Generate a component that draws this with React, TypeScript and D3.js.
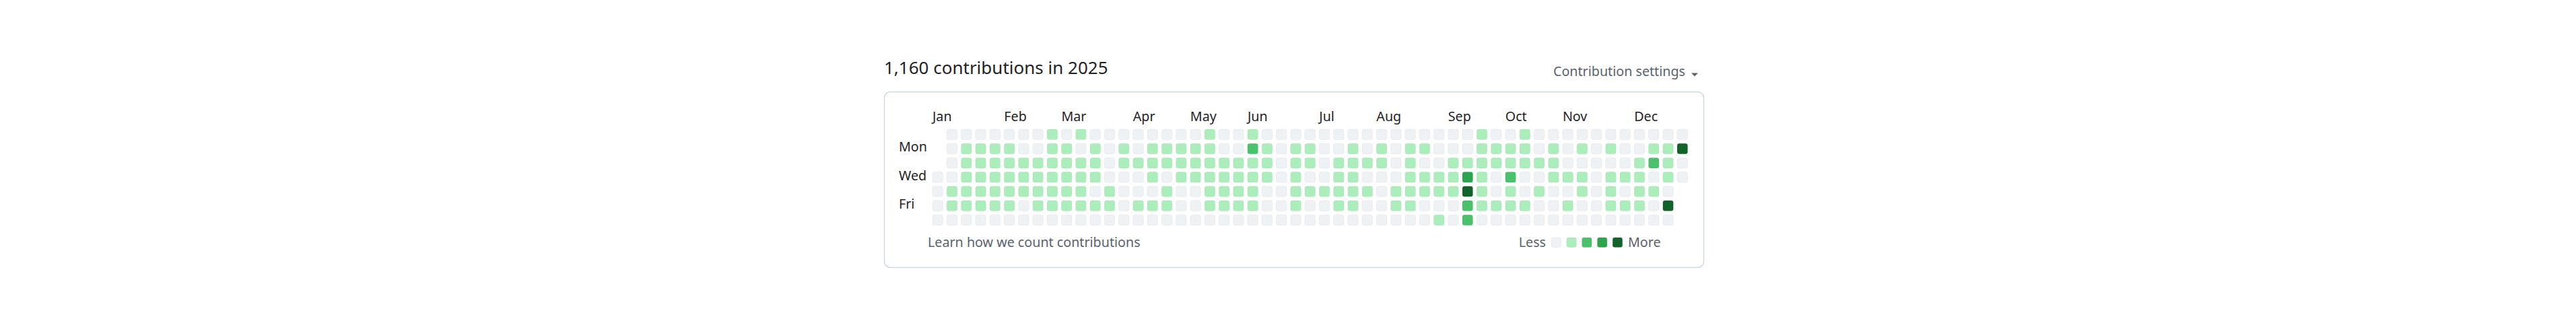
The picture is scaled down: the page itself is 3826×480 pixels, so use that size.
import React from 'react';
import * as d3 from 'd3';

// contribution levels, one array per weekday row (Sun..Sat), one entry per week column
const sun = [null,0,0,0,0,0,0,0,1,0, 1,0,0,0,0,0,0,0,0,1, 0,0,1,0,0,0,0,0,0,0, 0,0,0,0,0,0,0,0,1,0, 0,1,0,0,0,0,0,0,0,0, 0,0,0];
const mon = [null,0,1,1,1,1,0,0,1,1, 0,1,0,1,0,1,1,1,1,1, 0,0,2,1,0,1,1,0,0,1, 0,1,0,1,1,0,0,0,1,1, 1,1,0,1,0,1,0,1,0,0, 1,1,4];
const tue = [null,0,1,1,1,1,1,1,1,1, 1,1,0,1,1,1,1,1,1,1, 1,1,1,1,0,1,1,0,1,1, 1,1,0,1,0,0,1,1,1,1, 1,1,1,1,0,0,0,0,0,1, 2,1,0];
const wed = [0,0,1,1,1,1,1,1,1,1, 1,1,0,0,0,1,0,1,1,1, 1,1,1,1,0,1,0,0,1,1, 0,0,0,1,1,1,1,3,1,0, 2,0,0,1,1,1,0,1,1,1, 0,1,0];
const thu = [0,1,1,1,1,1,1,1,1,1, 1,0,1,0,0,0,1,0,0,1, 1,1,1,0,0,1,1,1,1,1, 1,0,1,1,1,1,1,4,1,0, 1,0,1,0,0,1,0,1,0,1, 1,0,null];
const fri = [0,1,1,1,1,1,0,1,1,1, 1,1,1,0,1,1,1,0,0,1, 1,1,1,0,0,1,0,0,1,1, 0,0,1,1,0,0,0,2,1,1, 1,1,0,0,1,0,0,1,1,1, 0,4,null];
const sat = [0,0,0,0,0,0,0,0,0,0, 0,0,0,0,0,0,0,0,0,0, 0,0,0,0,0,0,0,0,0,0, 0,0,0,0,0,1,0,2,0,0, 0,0,0,0,0,0,0,0,0,0, 0,0,null];

const rows = [sun, mon, tue, wed, thu, fri, sat];
const monthNames = ['Jan', 'Feb', 'Mar', 'Apr', 'May', 'Jun', 'Jul', 'Aug', 'Sep', 'Oct', 'Nov', 'Dec'];
const dayNames = ['', 'Mon', '', 'Wed', '', 'Fri', ''];
const levels = [0, 1, 2, 3, 4];
const levelColors = ['#eff2f5', '#aceebb', '#4ac26b', '#2da44e', '#116329'];
const year = 2025;
const title = '1,160 contributions in 2025';

const FONT = '"Noto Sans", sans-serif';

export default function App() {
    const start = new Date(year, 0, 1);
    const days = d3.timeDay.range(start, new Date(year + 1, 0, 1));
    const weekOf = (d: Date) => d3.timeWeek.count(start, d);
    const nWeeks = weekOf(days[days.length - 1]) + 1;

    const cell = 15.5;
    const step = 21.27;
    const x = d3.scaleLinear().domain([0, nWeeks - 1]).range([1385, 1385 + (nWeeks - 1) * step]);
    const y = d3.scaleLinear().domain([0, 6]).range([192, 192 + 6 * 21.2]);
    const color = d3.scaleOrdinal<number, string>().domain(levels).range(levelColors);

    const cells = days
        .map(d => ({ d, w: weekOf(d), r: d.getDay() }))
        .map(c => ({ ...c, level: rows[c.r][c.w] }))
        .filter(c => c.level !== null);

    // month label goes on the first column whose first day falls in a new month
    const monthTicks: { w: number; label: string }[] = [];
    let lastMonth = -1;
    for (let w = 0; w < nWeeks; w++) {
        const first = days.find(d => weekOf(d) === w)!;
        if (first.getMonth() !== lastMonth) {
            lastMonth = first.getMonth();
            if (w < nWeeks - 2) monthTicks.push({ w, label: monthNames[lastMonth] });
        }
    }

    const legendX = d3.scaleLinear().domain([0, 4]).range([2304, 2304 + 4 * 22.8]);
    const fs = 19.7;

    return (
        <svg width={3826} height={480} style={{ position: 'absolute', left: 0, top: 0 }} fontFamily={FONT}>
            <rect width={3826} height={480} fill="#fff" />
            <text x={1313} y={110} fontSize={26} fill="#1f2328">{title}</text>
            <text x={2503} y={113} fontSize={fs} fill="#59636e" textAnchor="end">Contribution settings</text>
            <path d="M2512,108.5 L2522,108.5 L2517,113.5 Z" fill="#59636e" />

            <rect x={1313.5} y={136.5} width={1217} height={261} rx={9} fill="#fff" stroke="#d1d9e0" strokeWidth={1.5} />

            {monthTicks.map(t => (
                <text key={t.label} x={x(t.w)} y={180} fontSize={fs} fill="#1f2328">{t.label}</text>
            ))}
            {dayNames.map((name, i) => name ? (
                <text key={name} x={1335} y={y(i) + cell / 2 + 4.5} fontSize={fs} fill="#1f2328">{name}</text>
            ) : null)}

            <g>
                {cells.map((c, i) => (
                    <rect key={i} x={x(c.w)} y={y(c.r)} width={cell} height={cell} rx={3.2}
                        fill={color(c.level as number)} stroke="rgba(31,35,40,0.05)" strokeWidth={1} />
                ))}
            </g>

            <text x={1378} y={367} fontSize={fs} fill="#59636e">Learn how we count contributions</text>

            <text x={2296} y={367} fontSize={fs} fill="#59636e" textAnchor="end">Less</text>
            {levels.map(l => (
                <rect key={l} x={legendX(l)} y={353} width={14.5} height={14.5} rx={3}
                    fill={color(l)} stroke="rgba(31,35,40,0.05)" />
            ))}
            <text x={2418} y={367} fontSize={fs} fill="#59636e">More</text>
        </svg>
    );
}
